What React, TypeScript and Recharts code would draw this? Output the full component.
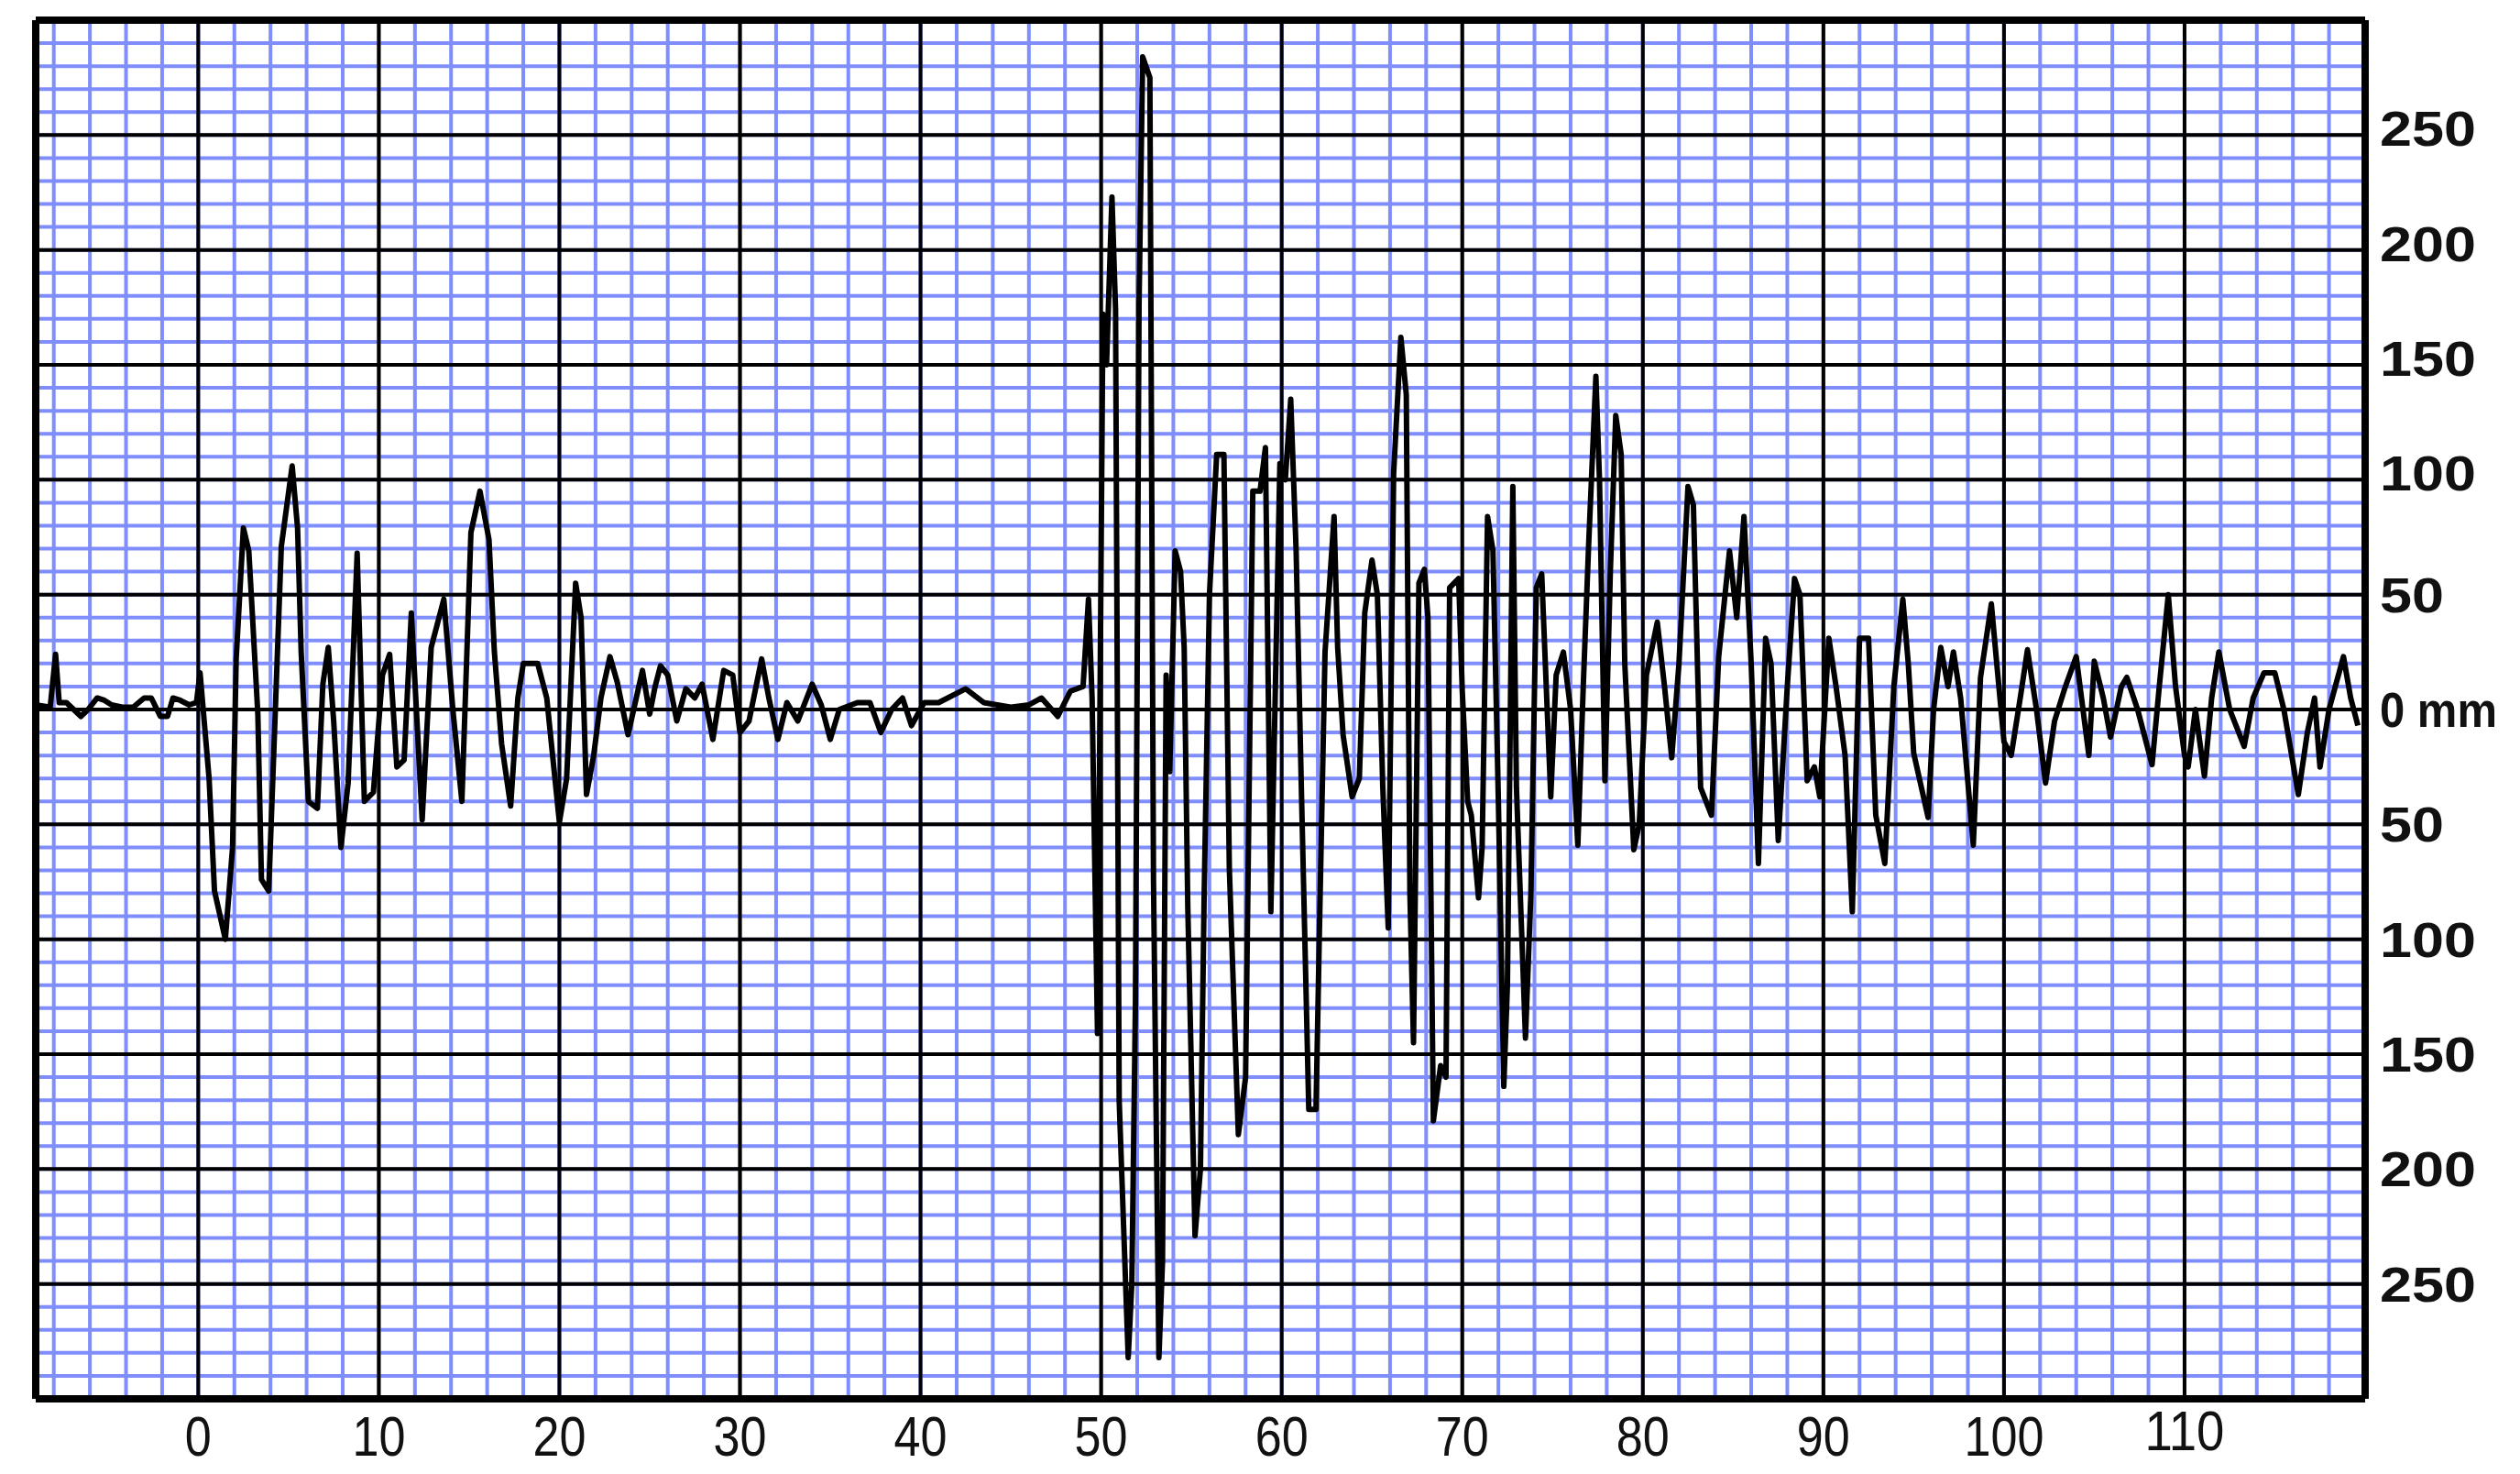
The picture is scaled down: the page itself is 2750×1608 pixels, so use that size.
import { LineChart, Line, XAxis, YAxis, CartesianGrid } from "recharts";

// seismogram trace: time (s) and ground displacement (mm)
const seconds = [
  -9, -8.2, -7.9, -7.7, -7.3, -6.5, -6.1, -5.6, -5.2, -4.8, -4.2, -3.6, -3.0, -2.6, -2.1, -1.7, -1.4, -1.0, -0.5, -0.1,
  0.1, 0.6, 0.9, 1.5, 1.9, 2.1, 2.5, 2.8, 3.0, 3.3, 3.5, 3.9, 4.2, 4.6, 5.2, 5.5, 5.7, 6.1, 6.6, 6.9,
  7.2, 7.5, 7.9, 8.3, 8.8, 9.2, 9.7, 10.2, 10.6, 11.0, 11.4, 11.8, 12.4, 12.9, 13.6, 14.1, 14.6, 15.1, 15.6, 16.1,
  16.4, 16.8, 17.3, 17.7, 18.0, 18.8, 19.3, 20.0, 20.4, 20.9, 21.2, 21.5, 21.9, 22.3, 22.8, 23.2, 23.8, 24.6, 25.0, 25.3,
  25.6, 26.0, 26.5, 27.0, 27.5, 27.9, 28.5, 29.1, 29.6, 30.0, 30.5, 31.2, 31.6, 32.1, 32.6, 33.2, 34.0, 34.5, 35.0, 35.5,
  36.5, 37.2, 37.8, 38.4, 39.0, 39.5, 40.2, 41.0, 42.5, 43.5, 45.0, 46.0, 46.7, 47.6, 48.3, 49.0, 49.3, 49.5, 49.8, 50.1,
  50.3, 50.6, 50.8, 51.0, 51.5, 51.7, 51.9, 52.1, 52.3, 52.7, 52.9, 53.2, 53.4, 53.6, 53.8, 54.1, 54.4, 54.6, 54.8, 55.2,
  55.5, 55.7, 56.0, 56.4, 56.8, 57.1, 57.6, 58.0, 58.4, 58.8, 59.1, 59.4, 59.9, 60.2, 60.5, 60.8, 61.1, 61.5, 61.9, 62.1,
  62.4, 62.9, 63.1, 63.4, 63.9, 64.3, 64.6, 65.0, 65.3, 65.6, 65.9, 66.2, 66.6, 66.9, 67.1, 67.3, 67.6, 67.9, 68.1, 68.4,
  68.8, 69.1, 69.3, 69.8, 70.0, 70.3, 70.5, 70.9, 71.1, 71.4, 71.7, 72.0, 72.3, 72.5, 72.8, 73.0, 73.5, 73.8, 74.1, 74.4,
  74.6, 74.9, 75.2, 75.6, 76.0, 76.4, 76.7, 77.0, 77.4, 77.6, 77.9, 78.2, 78.5, 78.8, 79.0, 79.5, 79.8, 80.2, 80.8, 81.2,
  81.6, 82.0, 82.5, 82.8, 83.2, 83.8, 84.2, 84.8, 85.2, 85.6, 86.0, 86.4, 86.8, 87.1, 87.5, 88.0, 88.4, 88.7, 89.1, 89.5,
  89.8, 90.3, 90.7, 91.2, 91.6, 92.0, 92.5, 92.9, 93.4, 93.9, 94.4, 94.7, 95.0, 95.8, 96.1, 96.5, 96.9, 97.2, 97.6, 98.3,
  98.7, 99.3, 99.6, 100.0, 100.4, 100.9, 101.3, 101.8, 102.3, 102.8, 103.4, 104.0, 104.7, 105.0, 105.5, 105.9, 106.5, 106.8, 107.4, 108.2,
  108.6, 109.1, 109.5, 110.0, 110.2, 110.6, 111.1, 111.5, 111.9, 112.5, 113.3, 113.8, 114.4, 115.0, 115.5, 116.3, 116.8, 117.2, 117.5, 118.0,
  118.8, 119.2, 119.6,
];

const amplitude = [
  2, 1, 24, 3, 3, -3, 0, 5, 4, 2, 1, 1, 5, 5, -3, -3, 5, 4, 2, 3,
  16, -30, -79, -100, -60, 22, 79, 69, 41, -2, -74, -79, -15, 71, 106, 79, 25, -40, -43, 11,
  27, -5, -60, -32, 68, -40, -36, 15, 24, -25, -22, 42, -48, 27, 48, 0, -40, 77, 95, 74,
  25, -15, -42, 5, 20, 20, 5, -49, -30, 55, 40, -37, -20, 5, 23, 12, -11, 17, -2, 10,
  19, 15, -5, 9, 5, 11, -13, 17, 15, -10, -5, 22, 5, -13, 3, -5, 11, 2, -13, 0,
  3, 3, -10, 0, 5, -7, 3, 3, 9, 3, 1, 2, 5, -3, 8, 10, 48, 5, -141, 172,
  150, 223, 174, -170, -282, -250, -128, 176, 284, 275, -74, -282, -240, 15, -27, 69, 60, 27, -86, -229,
  -200, -84, 50, 111, 111, -69, -185, -160, 95, 95, 114, -88, 107, 100, 135, 69, -38, -174, -174, -92,
  25, 84, 27, -11, -38, -30, 42, 65, 50, -34, -95, 103, 162, 137, -80, -145, 55, 61, 40, -179,
  -155, -160, 53, 57, 8, -40, -46, -82, -60, 84, 69, -40, -164, -120, 97, -34, -143, -80, 53, 59,
  20, -38, 15, 25, 0, -59, 10, 72, 145, 100, -31, 60, 128, 111, 20, -61, -50, 15, 38, 10,
  -21, 20, 97, 89, -34, -46, 23, 69, 40, 84, 20, -67, 31, 20, -57, 10, 57, 50, -31, -25,
  -38, 31, 10, -20, -88, 31, 31, -46, -67, 10, 48, 20, -19, -47, 0, 27, 10, 25, 5, -59,
  14, 46, 20, -14, -20, 5, 26, 0, -32, -5, 10, 23, -20, 21, 5, -12, 10, 14, 0, -24,
  10, 50, 10, -20, -25, 0, -29, 5, 25, 0, -16, 5, 16, 16, 0, -37, -10, 5, -25, 0,
  23, 5, -7,
];

const xLabels = [0, 10, 20, 30, 40, 50, 60, 70, 80, 90, 100, 110];
const yLabels = [250, 200, 150, 100, 50, 0, -50, -100, -150, -200, -250];
const xMinor = Array.from({ length: 64 }, (_, i) => -8 + 2 * i);
const yMinor = Array.from({ length: 59 }, (_, i) => -290 + 10 * i);
const xFrame = [-9, 120];
const yFrame = [-300, 300];

const data = seconds.map((t, i) => ({ t, mm: amplitude[i] }));

const BLUE = "#7f8dfd";

function XTick({ x, y, payload }: any) {
  const label = String(payload.value);
  return (
    <text
      x={x}
      y={y}
      dy={payload.value === 110 ? 56 : 62}
      textAnchor="middle"
      fill="#111"
      fontSize={62}
      fontFamily="Liberation Sans, Arial, sans-serif"
      textLength={label.length * 29}
      lengthAdjust="spacingAndGlyphs"
    >
      {label}
    </text>
  );
}

function YTick({ x, y, payload }: any) {
  const v = payload.value as number;
  const label = v === 0 ? "0 mm" : String(Math.abs(v));
  return (
    <text
      x={x}
      y={y}
      dx={16}
      dy={v > 50 ? 12 : 19}
      textAnchor="start"
      fill="#111"
      fontSize={54}
      fontWeight="bold"
      fontFamily="Liberation Sans, Arial, sans-serif"
      textLength={v === 0 ? 128 : label.length * 35}
      lengthAdjust="spacingAndGlyphs"
    >
      {label}
    </text>
  );
}

export default function App() {
  return (
    <LineChart
      width={2734}
      height={1592}
      data={data}
      margin={{ top: 14, right: 0, bottom: 0, left: 31 }}
    >
      <CartesianGrid
        stroke={BLUE}
        strokeWidth={4}
        verticalValues={xMinor}
        horizontalValues={yMinor}
      />
      <CartesianGrid
        stroke="#000"
        strokeWidth={4}
        verticalValues={xLabels}
        horizontalValues={yLabels}
      />
      <CartesianGrid
        stroke="#000"
        strokeWidth={8}
        verticalValues={xFrame}
        horizontalValues={yFrame}
      />
      <XAxis
        dataKey="t"
        type="number"
        domain={[-9, 120]}
        ticks={xLabels}
        interval={0}
        axisLine={false}
        tickLine={false}
        tickSize={0}
        tickMargin={0}
        height={74}
        tick={<XTick />}
      />
      <YAxis
        orientation="right"
        type="number"
        domain={[-300, 300]}
        ticks={yLabels}
        interval={0}
        axisLine={false}
        tickLine={false}
        tickSize={0}
        tickMargin={0}
        width={161}
        tick={<YTick />}
      />
      <Line
        type="linear"
        dataKey="mm"
        stroke="#000"
        strokeWidth={6}
        strokeLinejoin="round"
        dot={false}
        activeDot={false}
        isAnimationActive={false}
      />
    </LineChart>
  );
}
